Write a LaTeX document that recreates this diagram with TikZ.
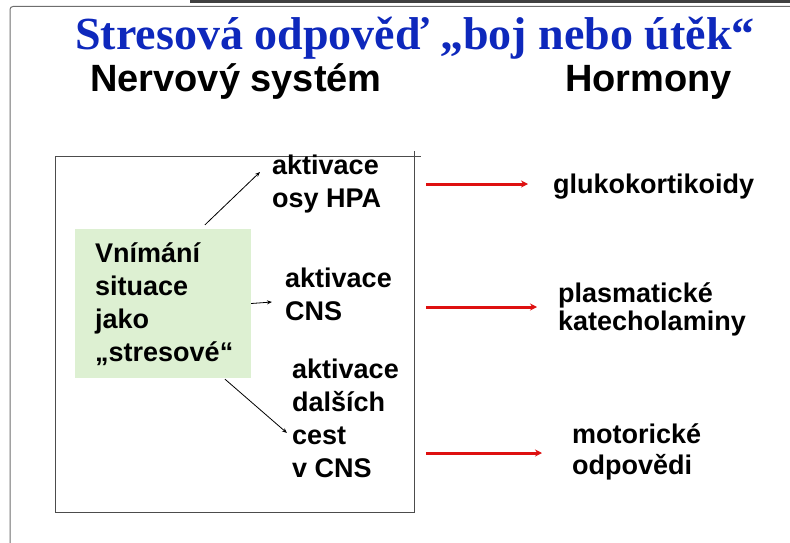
\documentclass[tikz,border=0pt]{standalone}
\usepackage{fontspec}
\setmainfont{Liberation Serif}
\setsansfont{Liberation Sans}
\usetikzlibrary{positioning, arrows.meta}

\definecolor{titleblue}{RGB}{14,40,188}
\definecolor{perceptgreen}{RGB}{221,240,210}
\definecolor{hormred}{RGB}{222,16,16}
\definecolor{framegray}{RGB}{110,110,110}

\begin{document}
\begin{tikzpicture}[
  x=1pt, y=-1pt,
  heading/.style={font=\fontsize{38}{40}\selectfont\sffamily\bfseries,
                  inner sep=0pt, anchor=west},
  label/.style={font=\fontsize{27}{33}\selectfont\sffamily\bfseries,
                align=left, inner sep=0pt, anchor=west},
  hormone/.style={label, font=\fontsize{27}{28}\selectfont\sffamily\bfseries},
  arr/.style={-{Stealth[length=5pt, width=4pt]}, line width=0.8pt},
  harr/.style={-{Stealth[length=7pt, width=7pt]}, line width=3pt, hormred}
]
  \useasboundingbox (0,0) rectangle (790,543);

  % slide frame
  \draw[line width=2.5pt, black!75] (190,1.5) -- (790,1.5);
  \draw[line width=1pt, framegray, rounded corners=3pt] (790,6.5) -- (10,6.5) -- (10,543);

  % headings
  \node[font=\fontsize{46}{48}\selectfont\bfseries, text=titleblue, inner sep=0pt]
    (title) at (415,38) {Stresová odpověď „boj nebo útěk“};
  \node[heading] (nerv) at (90,82) {Nervový systém};
  \node[heading] (horm) at (565,82) {Hormony};

  % box round the nervous part
  \draw[line width=1pt, black!70] (55,156) -- (421,156);
  \draw[line width=1pt, black!70] (414,151) -- (414,512) -- (55,512) -- (55,156);

  \node[fill=perceptgreen, minimum width=176pt, minimum height=149pt, inner sep=0pt]
    (percept) at (163,303.5) {};
  \node[label] (perceptText) at (95,304) {Vnímání\\situace\\jako\\„stresové“};

  \node[label] (hpa)   at (272,184) {aktivace\\osy HPA};
  \node[label] (cns)   at (285,294) {aktivace\\CNS};
  \node[label] (other) at (292,418) {aktivace\\dalších\\cest\\v CNS};

  \node[hormone] (gluko)  at (553,187) {glukokortikoidy};
  \node[hormone] (plasma) at (558,309) {plasmatické\\katecholaminy};
  \node[hormone, font=\fontsize{27}{31}\selectfont\sffamily\bfseries]
    (motor) at (572,452) {motorické\\odpovědi};

  \coordinate (r1) at (426,184);
  \coordinate (r2) at (426,307);
  \coordinate (r3) at (426,453);

  % edges
  \draw[arr] ([xshift=42pt, yshift=4pt]percept.north) -- ([xshift=-12pt, yshift=12pt]hpa.west);
  \draw[arr] (percept.east) -- ([xshift=-13pt, yshift=-8pt]cns.west);
  \draw[arr] ([xshift=62pt, yshift=-1pt]percept.south) -- ([xshift=-5pt, yshift=-15pt]other.west);
  \draw[harr, shorten >=25pt] (r1) -- (r1 -| gluko.west);
  \draw[harr, shorten >=21pt] (r2) -- (r2 -| plasma.west);
  \draw[harr, shorten >=30pt] (r3) -- (r3 -| motor.west);
\end{tikzpicture}
\end{document}
